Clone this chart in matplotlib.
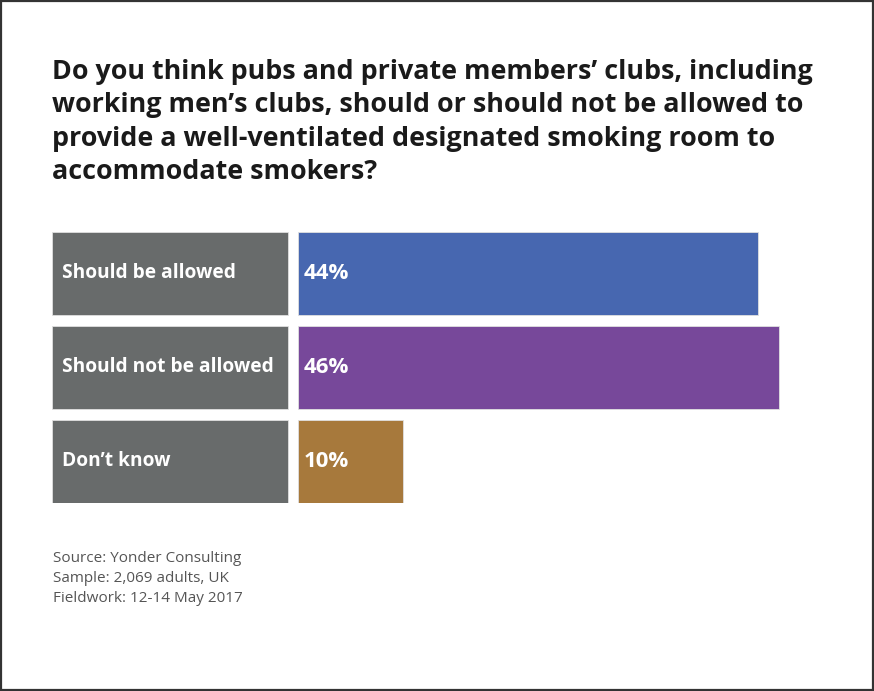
import matplotlib
matplotlib.use("Agg")
import matplotlib.pyplot as plt
from matplotlib.patches import Rectangle

# --- Data ---
categories = ["Should be allowed", "Should not be allowed", "Don\u2019t know"]
values = [44, 46, 10]
bar_colors = ["#4767b0", "#77489a", "#a7793c"]
title = ("Do you think pubs and private members\u2019 clubs, including\n"
         "working men\u2019s clubs, should or should not be allowed to\n"
         "provide a well-ventilated designated smoking room to\n"
         "accommodate smokers?")
footer = ["Source: Yonder Consulting",
          "Sample: 2,069 adults, UK",
          "Fieldwork: 12-14 May 2017"]

W, H = 874, 691
FONT = "Open Sans"
LABEL_GREY = "#686b6b"

fig = plt.figure(figsize=(W / 100, H / 100), dpi=100)
fig.patch.set_facecolor("white")

# outer border
fig.add_artist(Rectangle((1 / W, 1 / H), 1 - 2 / W, 1 - 2 / H,
                         transform=fig.transFigure, fill=False,
                         edgecolor="#333333", linewidth=1.6))

fig.text(52 / W, 1 - 59 / H, title, ha="left", va="top", fontsize=19.4,
         fontweight="bold", family=FONT, color="#1a1a1a", linespacing=1.37)

# bars axes: pixel 52..800 horizontally, 232..503 vertically
px_per_pct = 10.45
ax_left, ax_right = 52, 800
zero_px = 298
ax = fig.add_axes([ax_left / W, 1 - 503 / H, (ax_right - ax_left) / W, (503 - 232) / H])
ax.set_xlim((ax_left - zero_px) / px_per_pct, (ax_right - zero_px) / px_per_pct)
row_h = 83 / 94
ax.set_ylim(2 + row_h / 2, -row_h / 2)
ax.axis("off")

box_left = (52 - zero_px) / px_per_pct
box_w = (288 - 52) / px_per_pct
ypos = list(range(len(categories)))
ax.barh(ypos, [box_w] * len(categories), left=box_left, height=row_h,
        color=LABEL_GREY, edgecolor="#e0e0e0", linewidth=0.6)
ax.barh(ypos, values, left=0, height=row_h, color=bar_colors,
        edgecolor="#e0e0e0", linewidth=0.6)

for y, cat, v in zip(ypos, categories, values):
    ax.text(box_left + 10 / px_per_pct, y - 0.01, cat, ha="left", va="center",
            fontsize=13.8, fontweight="bold", family=FONT, color="white")
    ax.text(6 / px_per_pct, y, f"{v}%", ha="left", va="center",
            fontsize=16, fontweight="bold", family=FONT, color="white")

for i, line in enumerate(footer):
    fig.text(53 / W, 1 - (558 + i * 20) / H, line, ha="left", va="center",
             fontsize=11, family=FONT, color="#555555")

fig.savefig("out.png", dpi=100)
